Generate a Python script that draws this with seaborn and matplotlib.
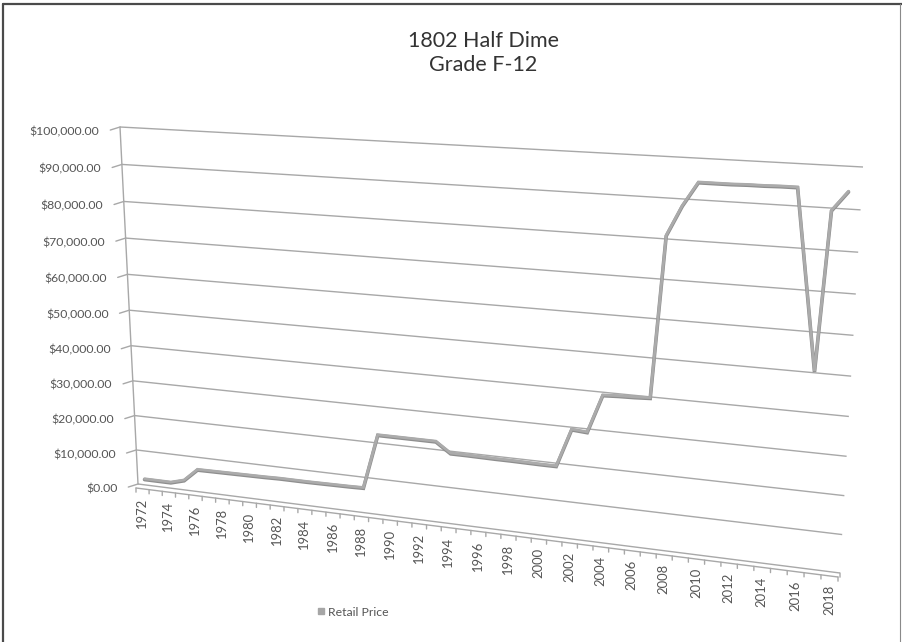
import numpy as np
import matplotlib
matplotlib.use("Agg")
import matplotlib.pyplot as plt
import matplotlib.transforms as mtransforms
from matplotlib.lines import Line2D
import seaborn as sns

# retail price by year
years = list(range(1972, 2020))
prices = [1800, 1800, 1800, 2900, 6500, 6550, 6600, 6650, 6700, 6750, 6850, 6850,
          6850, 6900, 6950, 7000, 7100, 22300, 22300, 22300, 22300, 22300, 19500, 19500,
          19450, 19400, 19400, 19350, 19300, 19300, 29500, 29200, 39300, 39500, 39600, 39800,
          80900, 88400, 94300, 94300, 94300, 94400, 94400, 94500, 94500, 50400, 89500, 94200]

axis_years = list(range(1972, 2019))
label_years = axis_years[::2]
value_ticks = list(range(0, 100001, 10000))

GRID = "#a8a8a8"
TEXT = "#555555"

# corners of the back wall in image pixels (x right, y down)
wall_corners = {(0, 0): (138, 484), (1, 0): (840, 573),
                (0, 1): (120, 127), (1, 1): (863, 167)}
u0, u1 = axis_years[0] - 0.5, axis_years[-1] + 0.5
vmax = value_ticks[-1]


def fit_homography(corners):
    A, b = [], []
    for (x, y), (X, Y) in corners.items():
        A.append([x, y, 1, 0, 0, 0, -X * x, -X * y]); b.append(X)
        A.append([0, 0, 0, x, y, 1, -Y * x, -Y * y]); b.append(Y)
    h = np.linalg.solve(np.array(A, float), np.array(b, float))
    return np.append(h, 1).reshape(3, 3)


class WallTransform(mtransforms.Transform):
    input_dims = output_dims = 2
    is_separable = False
    has_inverse = False

    def __init__(self, H):
        super().__init__()
        self.H = H

    def project(self, u, v):
        s = (u - u0) / (u1 - u0)
        w = v / vmax
        p = np.column_stack([s, w, np.ones_like(s)]) @ self.H.T
        return p[:, 0] / p[:, 2], p[:, 1] / p[:, 2]

    def transform_non_affine(self, values):
        values = np.asarray(values, float).reshape(-1, 2)
        x, y = self.project(values[:, 0], values[:, 1])
        return np.column_stack([x, y])


class RibbonTransform(WallTransform):
    # series ribbon: x from the floor, height read against the wall gridlines
    def transform_non_affine(self, values):
        values = np.asarray(values, float).reshape(-1, 2)
        u, v = values[:, 0], values[:, 1]
        fx, _ = self.project(u, np.zeros_like(u))
        ax_, ay = self.project(np.full_like(u, u0), v)
        bx, by = self.project(np.full_like(u, u1), v)
        y = ay + (fx - ax_) * (by - ay) / (bx - ax_)
        return np.column_stack([fx, y])


sns.set_style("white")
plt.rcParams["font.family"] = ["Lato", "DejaVu Sans"]

fig = plt.figure(figsize=(9.02, 6.42), dpi=100)
ax = fig.add_axes([0, 0, 1, 1])
H = fit_homography(wall_corners)
wall = WallTransform(H) + ax.transData
ribbon = RibbonTransform(H) + ax.transData


def shift(dx, dy):
    # pixel offset in image convention (y down)
    return mtransforms.ScaledTranslation(dx / 100, -dy / 100, fig.dpi_scale_trans)


def stub(xy, trans, dx, dy):
    ax.annotate("", xy=xy, xycoords=trans, xytext=(dx, dy), textcoords="offset points",
                arrowprops=dict(arrowstyle="-", color=GRID, lw=1.0, shrinkA=0, shrinkB=0))


# gridlines and value axis
for v in value_ticks:
    ax.plot([u0, u1], [v, v], color=GRID, lw=1.0, transform=wall, solid_capstyle="butt")
    ax.text(u0, v, f"${v:,.2f}", transform=wall + shift(-20.5, 4.5),
            ha="right", va="center", fontsize=8.8, color=TEXT)
    stub((u0, v), wall, -7, -2.2)
ax.plot([u0, u0], [0, vmax], color=GRID, lw=1.0, transform=wall)

# floor slab with category ticks
ax.plot([u0, u1], [0, 0], color=GRID, lw=1.0, transform=wall + shift(-2, 4))
stub((u1, 0), wall, 0, -3)
for b in np.arange(u0, u1 + 0.01, 1.0):
    stub((b, 0), wall + shift(-2, 4), 0, -3)
for yr in label_years:
    ax.text(yr, 0, str(yr), transform=wall + shift(-2.5, 13), rotation=90,
            ha="center", va="top", fontsize=9.4, color=TEXT)

# series ribbon
sns.lineplot(x=years, y=prices, ax=ax, color="#8e8e8e", lw=2.6,
             transform=ribbon + shift(0, 0.8), solid_joinstyle="miter")
sns.lineplot(x=years, y=prices, ax=ax, color="#ababab", lw=2.0,
             transform=ribbon, solid_joinstyle="miter")

ax.set_xlim(0, 902)
ax.set_ylim(642, 0)
ax.axis("off")

ax.text(483, 41, "1802 Half Dime", ha="center", va="center", fontsize=15.5, color="#333333")
ax.text(483, 65, "Grade F-12", ha="center", va="center", fontsize=15.5, color="#333333")

handle = Line2D([], [], marker="s", ls="none", color="#a6a6a6", markersize=4.5, label="Retail Price")
ax.legend(handles=[handle], loc="center", bbox_to_anchor=(352 / 902, 1 - 612 / 642),
          frameon=False, handletextpad=0.1, handlelength=1.0, fontsize=8.8, labelcolor=TEXT)

# outer frame
ax.plot([3, 3], [4, 642], color="#4a4a4a", lw=1.6)
ax.plot([3, 902], [4, 4], color="#4a4a4a", lw=1.6)
ax.plot([900, 900], [4, 642], color="#8a8a8a", lw=0.8)

fig.savefig("out.png", dpi=100)
